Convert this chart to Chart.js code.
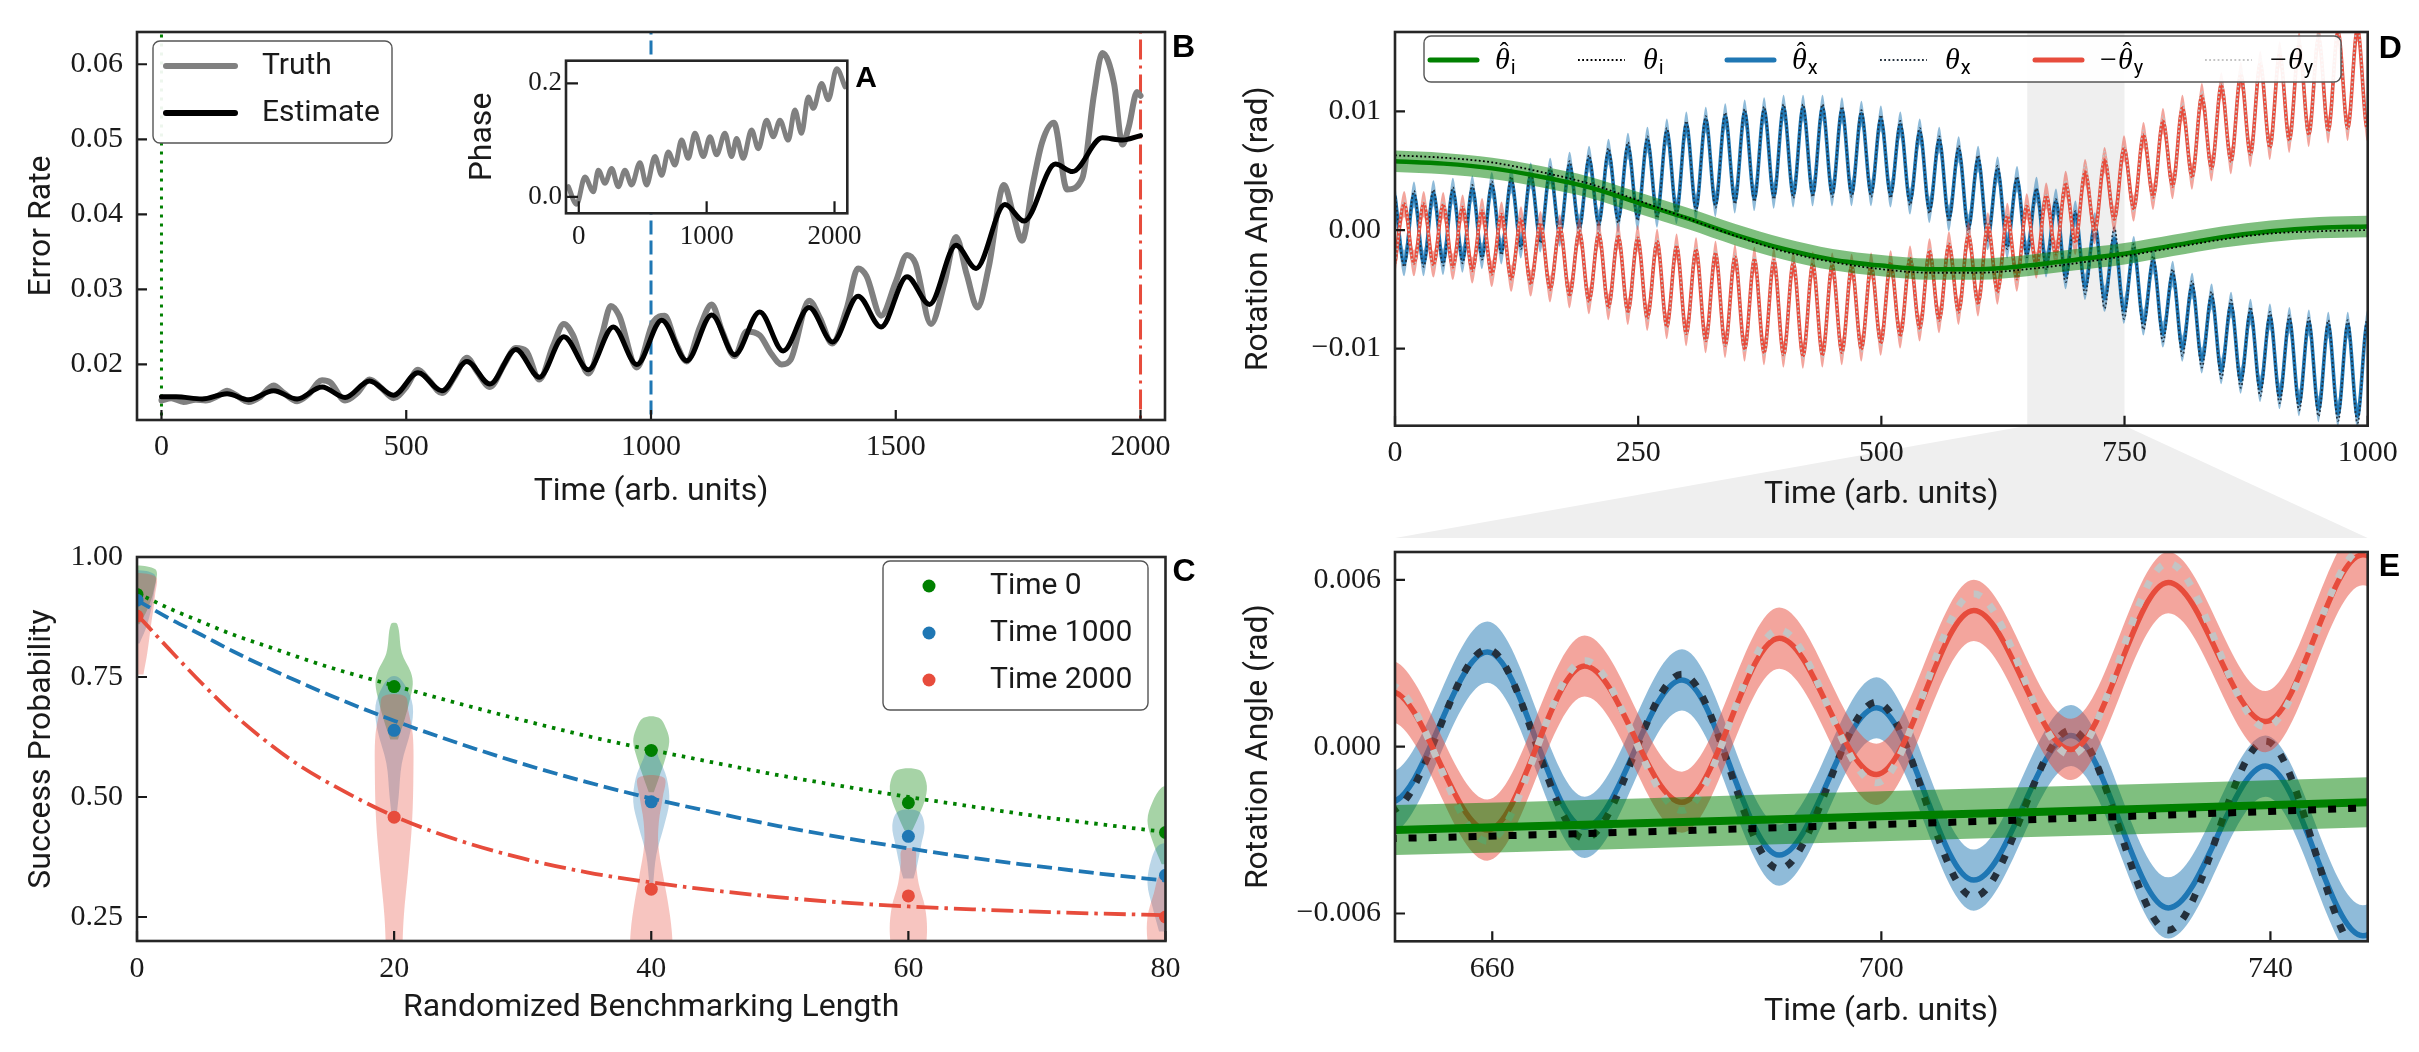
<!DOCTYPE html>
<html lang="en">
<head>
<meta charset="UTF-8">
<title>Drift tracking - error rate, benchmarking and rotation angles</title>
<script src="https://cdn.jsdelivr.net/npm/chart.js@4.4.1/dist/chart.umd.min.js"></script>
<style>
  html, body { margin: 0; padding: 0; background: #fff; }
  #fig { position: relative; width: 2419px; height: 1052px; overflow: hidden; background: #fff; }
  #fig canvas { position: absolute; }
</style>
</head>
<body>
<div id="fig">
  <canvas id="panelB" width="1215" height="525" style="left:0px;top:0px"></canvas>
  <canvas id="panelC" width="1215" height="527" style="left:0px;top:525px"></canvas>
  <canvas id="panelD" width="1204" height="538" style="left:1215px;top:0px"></canvas>
  <canvas id="panelE" width="1204" height="532" style="left:1215px;top:520px"></canvas>
  <canvas id="panelA" width="460" height="220" style="left:440px;top:40px"></canvas>
</div>
<script>
// ---------- B: error rate vs time ----------
const errTimes = [0, 30, 83, 134, 178, 229, 277, 328, 375, 425,
  474, 524, 573, 624, 671, 724, 772, 822, 872, 923,
  971, 1022, 1073, 1124, 1171, 1222, 1270, 1323, 1371, 1423,
  1470, 1523, 1569, 1623, 1664, 1723, 1762, 1826, 1861, 1922,
  1963, 2000];
const errEstimate = [0.0157, 0.0157, 0.0154, 0.0161, 0.0153, 0.0165, 0.0154, 0.0170, 0.0156, 0.0178,
  0.0159, 0.0189, 0.0165, 0.0204, 0.0174, 0.0220, 0.0183, 0.0237, 0.0193, 0.0250,
  0.0200, 0.0259, 0.0205, 0.0266, 0.0213, 0.0270, 0.0218, 0.0276, 0.0230, 0.0291,
  0.0250, 0.0317, 0.0280, 0.0359, 0.0328, 0.0413, 0.0391, 0.0467, 0.0457, 0.0502,
  0.0499, 0.0505];
const truthTimes = [0, 20, 45, 70, 90, 115, 134, 150, 178, 200,
  229, 250, 277, 300, 328, 345, 375, 400, 425, 450,
  474, 500, 524, 545, 573, 600, 624, 645, 671, 700,
  724, 745, 772, 800, 822, 840, 872, 900, 918, 935,
  971, 1005, 1028, 1050, 1073, 1100, 1124, 1145, 1171, 1195,
  1222, 1245, 1267, 1285, 1323, 1345, 1370, 1400, 1423, 1440,
  1470, 1500, 1523, 1540, 1572, 1600, 1623, 1645, 1667, 1690,
  1721, 1740, 1758, 1780, 1799, 1823, 1850, 1881, 1905, 1922,
  1946, 1963, 1976, 1993, 2000];
const truthRate = [0.0152, 0.0155, 0.0150, 0.0153, 0.0152, 0.0158, 0.0165, 0.0160, 0.0150, 0.0156,
  0.0172, 0.0162, 0.0151, 0.0160, 0.0179, 0.0176, 0.0152, 0.0162, 0.0180, 0.0168,
  0.0155, 0.0170, 0.0193, 0.0180, 0.0162, 0.0185, 0.0209, 0.0190, 0.0170, 0.0200,
  0.0222, 0.0218, 0.0180, 0.0225, 0.0254, 0.0240, 0.0188, 0.0240, 0.0278, 0.0265,
  0.0196, 0.0257, 0.0265, 0.0230, 0.0204, 0.0250, 0.0280, 0.0245, 0.0211, 0.0244,
  0.0239, 0.0215, 0.0200, 0.0206, 0.0285, 0.0262, 0.0228, 0.0275, 0.0328, 0.0318,
  0.0265, 0.0310, 0.0346, 0.0335, 0.0254, 0.0310, 0.0370, 0.0320, 0.0276, 0.0330,
  0.0439, 0.0400, 0.0365, 0.0440, 0.0496, 0.0522, 0.0433, 0.0448, 0.0560, 0.0615,
  0.0574, 0.0493, 0.0517, 0.0563, 0.0558];
const markTimes = [0, 1000, 2000];
const errTicksX = [0, 500, 1000, 1500, 2000];
const errLabelsX = ['0', '500', '1000', '1500', '2000'];
const errTicksY = [0.02, 0.03, 0.04, 0.05, 0.06];
const errLabelsY = ['0.02', '0.03', '0.04', '0.05', '0.06'];

// ---------- A (inset): phase ----------
const phaseTimes = [-82, -17, 48, 114, 153, 205, 257, 309, 361, 413,
  478, 530, 596, 648, 700, 752, 804, 856, 908, 974,
  1026, 1078, 1143, 1195, 1234, 1286, 1351, 1404, 1469, 1521,
  1573, 1638, 1690, 1742, 1795, 1834, 1899, 1951, 2017, 2082];
const phaseValues = [0.018, -0.013, 0.035, 0.009, 0.047, 0.024, 0.050, 0.018, 0.047, 0.021,
  0.060, 0.021, 0.071, 0.038, 0.079, 0.056, 0.100, 0.068, 0.112, 0.071,
  0.106, 0.074, 0.112, 0.071, 0.103, 0.068, 0.118, 0.085, 0.135, 0.106,
  0.135, 0.100, 0.153, 0.112, 0.176, 0.156, 0.200, 0.171, 0.226, 0.194];
const phaseTicksX = [0, 1000, 2000];
const phaseLabelsX = ['0', '1000', '2000'];
const phaseTicksY = [0, 0.2];
const phaseLabelsY = ['0.0', '0.2'];

// ---------- C: randomized benchmarking ----------
const rbLengths = [0, 20, 40, 60, 80];
const successTime0 = [0.922, 0.730, 0.597, 0.488, 0.426];
const successTime1000 = [0.910, 0.639, 0.490, 0.418, 0.337];
const successTime2000 = [0.877, 0.458, 0.308, 0.294, 0.250];
const fitLengths = [0, 2.5, 5, 7.5, 10, 12.5, 15, 20, 25, 30, 35, 40, 45, 50, 55, 60, 65, 70, 75, 80];
const fitTime0 = [0.925, 0.893, 0.865, 0.838, 0.815, 0.792, 0.770, 0.732, 0.695, 0.660,
  0.627, 0.598, 0.571, 0.545, 0.522, 0.500, 0.480, 0.460, 0.443, 0.427];
const fitTime1000 = [0.910, 0.872, 0.838, 0.803, 0.771, 0.741, 0.712, 0.659, 0.612, 0.569,
  0.531, 0.497, 0.467, 0.439, 0.415, 0.393, 0.373, 0.356, 0.340, 0.326];
const fitTime2000 = [0.880, 0.808, 0.738, 0.673, 0.617, 0.568, 0.528, 0.460, 0.410, 0.372,
  0.343, 0.322, 0.305, 0.291, 0.280, 0.272, 0.266, 0.261, 0.257, 0.254];
// violin outlines: [success, half width in lengths], bottom to top, one per length
const violinTime0 = [
  [[0.86, 0.2], [0.89, 0.8], [0.93, 1.3], [0.975, 1.4]],
  [[0.62, 0.3], [0.66, 0.8], [0.70, 1.2], [0.735, 1.45], [0.76, 1.3], [0.80, 0.6], [0.86, 0.25]],
  [[0.51, 0.2], [0.54, 0.6], [0.58, 1.1], [0.615, 1.4], [0.64, 1.2], [0.665, 0.6]],
  [[0.43, 0.3], [0.46, 0.8], [0.50, 1.35], [0.53, 1.4], [0.556, 0.85]],
  [[0.36, 0.3], [0.40, 0.9], [0.45, 1.4], [0.49, 1.0], [0.52, 0.3]]
];
const violinTime1000 = [
  [[0.82, 0.2], [0.86, 0.8], [0.92, 1.3], [0.965, 1.3]],
  [[0.45, 0.15], [0.50, 0.35], [0.57, 0.6], [0.64, 1.3], [0.69, 1.45], [0.73, 0.9], [0.75, 0.3]],
  [[0.32, 0.15], [0.38, 0.4], [0.44, 1.0], [0.49, 1.4], [0.54, 1.2], [0.58, 0.6], [0.60, 0.3]],
  [[0.33, 0.4], [0.36, 0.7], [0.40, 1.0], [0.44, 1.25], [0.47, 0.8]],
  [[0.22, 0.5], [0.27, 1.0], [0.32, 1.4], [0.37, 1.1], [0.40, 0.5]]
];
const violinTime2000 = [
  [[0.755, 0.5], [0.80, 0.8], [0.86, 1.1], [0.92, 1.4], [0.96, 1.4]],
  [[0.15, 0.6], [0.25, 0.75], [0.35, 1.1], [0.45, 1.4], [0.55, 1.5], [0.63, 1.45], [0.68, 1.1], [0.71, 0.85]],
  [[0.15, 1.7], [0.22, 1.6], [0.28, 1.3], [0.34, 0.9], [0.40, 0.55], [0.45, 0.6], [0.50, 0.9], [0.54, 1.0]],
  [[0.15, 1.2], [0.22, 1.45], [0.27, 1.3], [0.32, 0.8], [0.36, 0.6], [0.39, 0.5]],
  [[0.15, 1.0], [0.20, 1.4], [0.25, 1.4], [0.30, 0.9], [0.34, 0.4]]
];
const rbTicksX = [0, 20, 40, 60, 80];
const rbLabelsX = ['0', '20', '40', '60', '80'];
const rbTicksY = [0.25, 0.5, 0.75, 1.0];
const rbLabelsY = ['0.25', '0.50', '0.75', '1.00'];

// ---------- D / E: rotation angles (extrema of the oscillations) ----------
const tExt = [0, 9.5, 19.5, 29.5, 39.5, 49.5, 59.5, 69.5, 79.5, 89.5,
  99.5, 109.5, 119.5, 129.5, 139.5, 149.5, 159.5, 169.5, 179.5, 189.5,
  199.5, 209.5, 219.5, 229.5, 239.5, 249.5, 259.5, 269.5, 279.5, 289.5,
  299.5, 309.5, 319.5, 329.5, 339.5, 349.5, 359.5, 369.5, 379.5, 389.5,
  399.5, 409.5, 419.5, 429.5, 439.5, 449.5, 459.5, 469.5, 479.5, 489.5,
  499.5, 509.5, 519.5, 529.5, 539.5, 549.5, 559.5, 569.5, 579.5, 589.5,
  599.5, 609.5, 619.5, 629.5, 639.5, 649.5, 659.5, 669.5, 679.5, 689.5,
  699.5, 709.5, 719.5, 729.5, 739.5, 749.5, 759.5, 769.5, 779.5, 789.5,
  799.5, 809.5, 819.5, 829.5, 839.5, 849.5, 859.5, 869.5, 879.5, 889.5,
  899.5, 909.5, 919.5, 929.5, 939.5, 949.5, 959.5, 969.5, 979.5, 989.5,
  999.5, 1000];
const thetaXEst = [0.0029, -0.0028, 0.0030, -0.0028, 0.0031, -0.0027, 0.0033, -0.0025, 0.0035, -0.0022,
  0.0038, -0.0018, 0.0042, -0.0013, 0.0046, -0.0008, 0.0050, -0.0003, 0.0055, 0.0002,
  0.0060, 0.0006, 0.0066, 0.0009, 0.0071, 0.0011, 0.0076, 0.0013, 0.0083, 0.0016,
  0.0089, 0.0019, 0.0093, 0.0022, 0.0096, 0.0025, 0.0099, 0.0027, 0.0101, 0.0029,
  0.0103, 0.0030, 0.0103, 0.0031, 0.0103, 0.0031, 0.0101, 0.0031, 0.0098, 0.0031,
  0.0094, 0.0030, 0.0089, 0.0024, 0.0083, 0.0017, 0.0076, 0.0010, 0.0068, 0.0002,
  0.0060, -0.0006, 0.0051, -0.0013, 0.0043, -0.0020, 0.0034, -0.0029, 0.0024, -0.0039,
  0.0014, -0.0048, 0.0004, -0.0058, -0.0007, -0.0068, -0.0016, -0.0078, -0.0026, -0.0088,
  -0.0037, -0.0100, -0.0047, -0.0110, -0.0056, -0.0119, -0.0063, -0.0127, -0.0069, -0.0134,
  -0.0073, -0.0140, -0.0076, -0.0146, -0.0078, -0.0151, -0.0080, -0.0155, -0.0080, -0.0157,
  -0.0079, -0.0079];
const thetaXTrue = [0.0031, -0.0031, 0.0033, -0.0031, 0.0034, -0.0030, 0.0036, -0.0028, 0.0038, -0.0025,
  0.0041, -0.0021, 0.0045, -0.0016, 0.0049, -0.0011, 0.0053, -0.0006, 0.0058, -0.0001,
  0.0063, 0.0003, 0.0069, 0.0006, 0.0074, 0.0008, 0.0079, 0.0010, 0.0086, 0.0013,
  0.0092, 0.0016, 0.0096, 0.0019, 0.0099, 0.0022, 0.0102, 0.0024, 0.0104, 0.0026,
  0.0106, 0.0027, 0.0106, 0.0028, 0.0106, 0.0028, 0.0104, 0.0028, 0.0101, 0.0028,
  0.0097, 0.0027, 0.0092, 0.0021, 0.0086, 0.0014, 0.0079, 0.0007, 0.0071, -0.0001,
  0.0063, -0.0009, 0.0054, -0.0016, 0.0045, -0.0023, 0.0035, -0.0033, 0.0026, -0.0044,
  0.0016, -0.0054, 0.0006, -0.0066, 0.0002, -0.0075, -0.0012, -0.0084, -0.0022, -0.0094,
  -0.0033, -0.0106, -0.0043, -0.0116, -0.0052, -0.0125, -0.0059, -0.0133, -0.0065, -0.0140,
  -0.0069, -0.0146, -0.0072, -0.0152, -0.0074, -0.0157, -0.0076, -0.0161, -0.0076, -0.0163,
  -0.0075, -0.0075];
const thetaYEst = [-0.0028, 0.0022, -0.0028, 0.0022, -0.0029, 0.0021, -0.0031, 0.0019, -0.0034, 0.0016,
  -0.0037, 0.0013, -0.0041, 0.0009, -0.0045, 0.0005, -0.0050, 0.0002, -0.0055, -0.0001,
  -0.0060, -0.0003, -0.0065, -0.0005, -0.0069, -0.0007, -0.0074, -0.0010, -0.0081, -0.0014,
  -0.0087, -0.0017, -0.0093, -0.0020, -0.0097, -0.0023, -0.0100, -0.0025, -0.0103, -0.0026,
  -0.0105, -0.0028, -0.0106, -0.0029, -0.0105, -0.0030, -0.0103, -0.0031, -0.0100, -0.0030,
  -0.0095, -0.0028, -0.0089, -0.0024, -0.0083, -0.0018, -0.0076, -0.0012, -0.0069, -0.0004,
  -0.0062, 0.0004, -0.0052, 0.0012, -0.0041, 0.0020, -0.0030, 0.0029, -0.0020, 0.0039,
  -0.0010, 0.0049, -0.0001, 0.0059, 0.0009, 0.0069, 0.0018, 0.0080, 0.0028, 0.0092,
  0.0037, 0.0103, 0.0045, 0.0113, 0.0052, 0.0122, 0.0058, 0.0131, 0.0064, 0.0140,
  0.0070, 0.0148, 0.0076, 0.0156, 0.0081, 0.0162, 0.0084, 0.0167, 0.0086, 0.0170,
  0.0086, 0.0087];
const thetaYTrue = [-0.0031, 0.0025, -0.0031, 0.0025, -0.0032, 0.0024, -0.0034, 0.0022, -0.0037, 0.0019,
  -0.0040, 0.0016, -0.0044, 0.0012, -0.0048, 0.0008, -0.0053, 0.0005, -0.0058, 0.0002,
  -0.0063, 0.0000, -0.0068, -0.0002, -0.0072, -0.0004, -0.0077, -0.0007, -0.0084, -0.0011,
  -0.0090, -0.0014, -0.0096, -0.0017, -0.0100, -0.0020, -0.0103, -0.0022, -0.0106, -0.0023,
  -0.0108, -0.0025, -0.0109, -0.0026, -0.0108, -0.0027, -0.0106, -0.0028, -0.0103, -0.0027,
  -0.0098, -0.0025, -0.0092, -0.0021, -0.0086, -0.0015, -0.0079, -0.0009, -0.0072, -0.0001,
  -0.0065, 0.0007, -0.0055, 0.0014, -0.0044, 0.0022, -0.0034, 0.0031, -0.0023, 0.0042,
  -0.0013, 0.0055, -0.0003, 0.0066, 0.0007, 0.0071, 0.0015, 0.0084, 0.0025, 0.0096,
  0.0034, 0.0107, 0.0042, 0.0117, 0.0049, 0.0126, 0.0055, 0.0135, 0.0061, 0.0144,
  0.0067, 0.0152, 0.0073, 0.0160, 0.0078, 0.0166, 0.0081, 0.0171, 0.0083, 0.0174,
  0.0083, 0.0084];
const thetaITimes = [0, 50, 100, 150, 200, 250, 300, 350, 400, 450, 500,
  550, 600, 650, 700, 750, 800, 850, 900, 950, 1000];
const thetaIEst = [0.0058, 0.0056, 0.0052, 0.0045, 0.0036, 0.0023, 0.0010, -0.0004, -0.0016, -0.0025, -0.0030,
  -0.0033, -0.0033, -0.0030, -0.0025, -0.0020, -0.0013, -0.0006, -0.0001, 0.0002, 0.0003];
const thetaITrue = [0.0063, 0.0061, 0.0057, 0.0049, 0.0039, 0.0025, 0.0010, -0.0005, -0.0018, -0.0027, -0.0033,
  -0.0036, -0.0036, -0.0033, -0.0028, -0.0022, -0.0015, -0.0008, -0.0003, -0.0001, 0.0000];
const sigmaI = 0.0009;
const sigmaX = 0.0011;
const sigmaY = 0.0011;
const zoomWindow = [650, 750];
const angTicksX = [0, 250, 500, 750, 1000];
const angLabelsX = ['0', '250', '500', '750', '1000'];
const angTicksY = [-0.01, 0, 0.01];
const angLabelsY = ['\u22120.01', '0.00', '0.01'];
const zoomTicksX = [660, 700, 740];
const zoomLabelsX = ['660', '700', '740'];
const zoomTicksY = [-0.006, 0, 0.006];
const zoomLabelsY = ['\u22120.006', '0.000', '0.006'];

// ---------- styling ----------
const INK = '#1a1a1a';
const GREEN = '#008000', BLUE = '#1f77b4', RED = '#e74c3c', GRAY = '#808080';
const GREEN_FILL = 'rgba(0,128,0,0.5)', BLUE_FILL = 'rgba(31,119,180,0.5)', RED_FILL = 'rgba(231,76,60,0.5)';
const BLUE_TRUTH = '#24303c', RED_TRUTH = '#c4c4c4';
const SERIF = "'Liberation Serif', serif";
const SANS = "Roboto, sans-serif";

const pts = (xs, ys, shift = 0) => xs.map((x, i) => ({ x, y: ys[i] + shift }));

function axis(o) {
  return {
    type: 'linear', min: o.min, max: o.max, bounds: 'data',
    afterBuildTicks: s => { s.ticks = o.ticks.map(v => ({ value: v })); },
    afterFit: s => { if (s.isHorizontal()) s.height = o.size; else s.width = o.size; },
    grid: { display: false, drawTicks: false },
    border: { display: false },
    ticks: {
      autoSkip: false, maxRotation: 0, minRotation: 0, padding: o.pad, color: INK,
      font: { family: SERIF, size: o.fs || 30 },
      callback: (v, i) => o.labels[i]
    },
    title: {
      display: true, text: o.title, color: INK,
      font: { family: SANS, size: 32 },
      padding: { top: o.tpad, bottom: o.tpad }
    }
  };
}

function curve(xs, ys, color, width, dash, order, extra) {
  return Object.assign({
    data: pts(xs, ys), borderColor: color, borderWidth: width, borderDash: dash || [],
    pointRadius: 0, pointHoverRadius: 0, fill: false,
    cubicInterpolationMode: 'monotone', capBezierPoints: false, order
  }, extra || {});
}

function band(xs, ys, sigma, color, order) {
  const common = { borderColor: 'transparent', borderWidth: 0, pointRadius: 0,
    cubicInterpolationMode: 'monotone', capBezierPoints: false, order };
  return [
    Object.assign({ data: pts(xs, ys, -sigma), fill: false }, common),
    Object.assign({ data: pts(xs, ys, sigma), fill: '-1', backgroundColor: color }, common)
  ];
}

function handle(ctx, x0, x1, y, color, width, dash, cap) {
  ctx.save();
  ctx.strokeStyle = color; ctx.lineWidth = width; ctx.setLineDash(dash || []); ctx.lineCap = cap || 'butt';
  ctx.beginPath(); ctx.moveTo(x0, y); ctx.lineTo(x1, y); ctx.stroke();
  ctx.restore();
}

function legendBox(ctx, x, y, w, h) {
  ctx.save();
  ctx.beginPath(); ctx.roundRect(x, y, w, h, 7);
  ctx.fillStyle = 'rgba(255,255,255,0.93)'; ctx.fill();
  ctx.strokeStyle = '#555'; ctx.lineWidth = 1.4; ctx.stroke();
  ctx.restore();
}

function label(ctx, text, x, y, size) {
  ctx.save();
  ctx.fillStyle = INK; ctx.font = (size || 30) + 'px ' + SANS;
  ctx.textBaseline = 'middle'; ctx.textAlign = 'left';
  ctx.fillText(text, x, y);
  ctx.restore();
}

function thetaLabel(ctx, x, base, lab) {
  ctx.save();
  ctx.fillStyle = '#000'; ctx.textBaseline = 'alphabetic'; ctx.textAlign = 'left';
  let cx = x;
  if (lab.minus) {
    ctx.font = '30px ' + SERIF;
    ctx.fillText('\u2212', cx, base);
    cx += ctx.measureText('\u2212').width + 1;
  }
  ctx.font = 'italic 30px ' + SERIF;
  const w = ctx.measureText('\u03b8').width;
  ctx.fillText('\u03b8', cx, base);
  if (lab.hat) {
    ctx.font = '26px ' + SERIF; ctx.textAlign = 'center';
    ctx.fillText('\u02c6', cx + w * 0.62, base - 9);
    ctx.textAlign = 'left';
  }
  ctx.font = '20px ' + SANS;
  ctx.fillText(lab.sub, cx + w + 1, base + 5);
  ctx.restore();
}

// frame, inward ticks, panel letter and legend drawn over the plot
function decor(o) {
  return {
    id: 'decor' + o.letter,
    beforeDraw(chart) { if (o.under) o.under(chart); },
    afterDraw(chart) {
      const { ctx, chartArea: a, scales } = chart;
      ctx.save();
      ctx.strokeStyle = INK; ctx.lineWidth = 2.2;
      ctx.beginPath();
      scales.x.ticks.forEach(t => {
        const x = scales.x.getPixelForValue(t.value);
        ctx.moveTo(x, a.bottom); ctx.lineTo(x, a.bottom - o.tick);
      });
      scales.y.ticks.forEach(t => {
        const y = scales.y.getPixelForValue(t.value);
        ctx.moveTo(a.left, y); ctx.lineTo(a.left + o.tick, y);
      });
      ctx.stroke();
      ctx.lineWidth = 2.6; ctx.strokeStyle = '#262626';
      ctx.strokeRect(a.left, a.top, a.right - a.left, a.bottom - a.top);
      if (o.legend) o.legend(ctx, chart);
      ctx.fillStyle = '#000';
      ctx.font = 'bold ' + (o.letterSize || 32) + "px 'Liberation Sans', sans-serif";
      ctx.textBaseline = 'alphabetic'; ctx.textAlign = 'left';
      ctx.fillText(o.letter, a.right + o.ldx, a.top + o.ldy);
      ctx.restore();
    }
  };
}

function baseOptions(pad, x, y) {
  return {
    responsive: false, animation: false, devicePixelRatio: 1, events: [],
    layout: { padding: pad },
    plugins: { legend: { display: false }, tooltip: { enabled: false } },
    scales: { x, y }
  };
}

// ---------- panel B ----------
const markStyles = [
  { color: GREEN, dash: [3, 6] },
  { color: BLUE, dash: [14, 6] },
  { color: RED, dash: [20, 6, 3, 6] }
];
new Chart(document.getElementById('panelB'), {
  type: 'line',
  data: {
    datasets: [
      curve(errTimes, errEstimate, '#000', 5, [], 1, { borderCapStyle: 'round' }),
      curve(truthTimes, truthRate, GRAY, 6, [], 2, { borderCapStyle: 'round' }),
      ...markTimes.map((t, i) => ({
        data: [{ x: t, y: 0 }, { x: t, y: 1 }], borderColor: markStyles[i].color, borderWidth: 3,
        borderDash: markStyles[i].dash, pointRadius: 0, tension: 0, order: 3
      }))
    ]
  },
  options: baseOptions({ top: 24, right: 50, left: 0, bottom: 0 },
    axis({ min: -50, max: 2050, ticks: errTicksX, labels: errLabelsX, size: 105, pad: 9.5, title: 'Time (arb. units)', tpad: 13.8 }),
    axis({ min: 0.0126, max: 0.0643, ticks: errTicksY, labels: errLabelsY, size: 137, pad: 14, title: 'Error Rate', tpad: 23 })),
  plugins: [decor({
    letter: 'B', ldx: 7, ldy: 25, tick: 10,
    legend(ctx) {
      legendBox(ctx, 153, 41, 239, 102);
      handle(ctx, 166, 235, 66, GRAY, 6, [], 'round');
      label(ctx, 'Truth', 262, 66);
      handle(ctx, 166, 235, 113, '#000', 6, [], 'round');
      label(ctx, 'Estimate', 262, 113);
    }
  })]
});

// ---------- inset A ----------
new Chart(document.getElementById('panelA'), {
  type: 'line',
  data: { datasets: [curve(phaseTimes, phaseValues, GRAY, 5, [], 1, { borderCapStyle: 'round' })] },
  options: baseOptions({ top: 20.7, right: 52.7, left: 0, bottom: 0 },
    axis({ min: -100, max: 2100, ticks: phaseTicksX, labels: phaseLabelsX, size: 46.7, pad: 7, fs: 27, title: '', tpad: 0 }),
    axis({ min: -0.029, max: 0.240, ticks: phaseTicksY, labels: phaseLabelsY, size: 126, pad: 4, fs: 27, title: 'Phase', tpad: 24 })),
  plugins: [decor({
    letter: 'A', ldx: 8, ldy: 26, tick: 12, letterSize: 30,
    under(chart) {
      const { ctx, chartArea: a } = chart;
      ctx.save(); ctx.fillStyle = '#fff'; ctx.fillRect(a.left, a.top, a.right - a.left, a.bottom - a.top); ctx.restore();
    }
  })]
});

// ---------- panel C ----------
function violinShape(m, profile) {
  const right = profile.map(([y, w]) => ({ x: m + w, y }));
  const left = profile.slice().reverse().map(([y, w]) => ({ x: m - w, y }));
  return right.concat(left);
}
const rbSeries = [
  { violins: violinTime0, fit: fitTime0, pts: successTime0, color: GREEN, fill: 'rgba(0,128,0,0.35)', dash: [3.5, 6] },
  { violins: violinTime1000, fit: fitTime1000, pts: successTime1000, color: BLUE, fill: 'rgba(31,119,180,0.3)', dash: [15, 6] },
  { violins: violinTime2000, fit: fitTime2000, pts: successTime2000, color: RED, fill: 'rgba(231,76,60,0.32)', dash: [22, 6, 3.5, 6] }
];
const rbSets = [];
rbSeries.forEach((s, k) => {
  s.violins.forEach((prof, j) => {
    rbSets.push({ data: violinShape(rbLengths[j], prof), fill: 'shape', backgroundColor: s.fill,
      borderColor: 'transparent', borderWidth: 0, pointRadius: 0, tension: 0.35, clip: 0, order: 30 - k });
  });
  rbSets.push(curve(fitLengths, s.fit, s.color, 3.8, s.dash, 20 - k, { clip: 0 }));
  rbSets.push({ data: pts(rbLengths, s.pts), showLine: false, pointRadius: 6.5, pointBorderWidth: 0,
    pointBackgroundColor: s.color, backgroundColor: s.color, borderColor: s.color, clip: 0, order: 10 - k });
});
new Chart(document.getElementById('panelC'), {
  type: 'line',
  data: { datasets: rbSets },
  options: baseOptions({ top: 18, right: 49.5, left: 0, bottom: 0 },
    axis({ min: 0, max: 80, ticks: rbTicksX, labels: rbLabelsX, size: 111, pad: 10.5, title: 'Randomized Benchmarking Length', tpad: 24.8 }),
    axis({ min: 0.2, max: 1.0, ticks: rbTicksY, labels: rbLabelsY, size: 137, pad: 14, title: 'Success Probability', tpad: 23 })),
  plugins: [decor({
    letter: 'C', ldx: 7, ldy: 24, tick: 10,
    legend(ctx) {
      legendBox(ctx, 883, 36, 265, 149);
      ['Time 0', 'Time 1000', 'Time 2000'].forEach((t, i) => {
        const y = 61 + i * 47;
        ctx.save(); ctx.fillStyle = rbSeries[i].color;
        ctx.beginPath(); ctx.arc(929, y, 6.5, 0, Math.PI * 2); ctx.fill(); ctx.restore();
        label(ctx, t, 990, y);
      });
    }
  })]
});

// ---------- panels D and E ----------
function angleSets(w) {
  return [
    ...band(tExt, thetaXEst, sigmaX, BLUE_FILL, 12),
    curve(tExt, thetaXEst, BLUE, w.line, [], 11),
    curve(tExt, thetaXTrue, BLUE_TRUTH, w.truth, w.dash, 10),
    ...band(tExt, thetaYEst, sigmaY, RED_FILL, 9),
    curve(tExt, thetaYEst, RED, w.line, [], 8),
    curve(tExt, thetaYTrue, RED_TRUTH, w.truth, w.dash, 7),
    ...band(thetaITimes, thetaIEst, sigmaI, GREEN_FILL, 6),
    curve(thetaITimes, thetaIEst, GREEN, w.green, [], 5),
    curve(thetaITimes, thetaITrue, '#000', w.truth, w.dash, 4)
  ];
}

new Chart(document.getElementById('panelD'), {
  type: 'line',
  data: { datasets: angleSets({ line: 3.6, green: 4.5, truth: 1.8, dash: [1.8, 2.4] }) },
  options: baseOptions({ top: 20.7, right: 51.3, left: 0, bottom: 0 },
    axis({ min: 0, max: 1000, ticks: angTicksX, labels: angLabelsX, size: 112.3, pad: 9.3, title: 'Time (arb. units)', tpad: 23.8 }),
    axis({ min: -0.0165, max: 0.0167, ticks: angTicksY, labels: angLabelsY, size: 180, pad: 14, title: 'Rotation Angle (rad)', tpad: 24.3 })),
  plugins: [decor({
    letter: 'D', ldx: 11, ldy: 26, tick: 10,
    under(chart) {
      const { ctx, chartArea: a, scales: { x } } = chart;
      const x0 = x.getPixelForValue(zoomWindow[0]), x1 = x.getPixelForValue(zoomWindow[1]);
      ctx.save();
      ctx.fillStyle = '#efefef';
      ctx.fillRect(x0, a.top, x1 - x0, a.bottom - a.top);
      ctx.beginPath();
      ctx.moveTo(x0, a.bottom); ctx.lineTo(x1, a.bottom);
      ctx.lineTo(a.right, chart.height); ctx.lineTo(a.left, chart.height);
      ctx.closePath(); ctx.fill();
      ctx.restore();
    },
    legend(ctx) {
      legendBox(ctx, 209, 36, 917, 46);
      const y = 60, base = 69;
      const entries = [
        { x: 215, color: GREEN, w: 5, dash: [], lab: { hat: true, sub: 'i' } },
        { x: 363, color: '#000', w: 1.8, dash: [1.8, 2.4], lab: { sub: 'i' } },
        { x: 512, color: BLUE, w: 5, dash: [], lab: { hat: true, sub: 'x' } },
        { x: 665, color: BLUE_TRUTH, w: 1.8, dash: [1.8, 2.4], lab: { sub: 'x' } },
        { x: 820, color: RED, w: 5, dash: [], lab: { minus: true, hat: true, sub: 'y' } },
        { x: 990, color: RED_TRUTH, w: 1.8, dash: [1.8, 2.4], lab: { minus: true, sub: 'y' } }
      ];
      entries.forEach(e => {
        handle(ctx, e.x, e.x + 47, y, e.color, e.w, e.dash, e.dash.length ? 'butt' : 'round');
        thetaLabel(ctx, e.x + 65, base, e.lab);
      });
    }
  })]
});

new Chart(document.getElementById('panelE'), {
  type: 'line',
  data: { datasets: angleSets({ line: 5.5, green: 8, truth: 7, dash: [8, 12] }) },
  options: baseOptions({ top: 17.6, right: 51.3, left: 0, bottom: 0 },
    axis({ min: zoomWindow[0], max: zoomWindow[1], ticks: zoomTicksX, labels: zoomLabelsX, size: 110.7, pad: 10.2, title: 'Time (arb. units)', tpad: 21.1 }),
    axis({ min: -0.0070, max: 0.0070, ticks: zoomTicksY, labels: zoomLabelsY, size: 180, pad: 14, title: 'Rotation Angle (rad)', tpad: 24.3 })),
  plugins: [decor({ letter: 'E', ldx: 11, ldy: 24, tick: 10 })]
});
</script>
</body>
</html>
